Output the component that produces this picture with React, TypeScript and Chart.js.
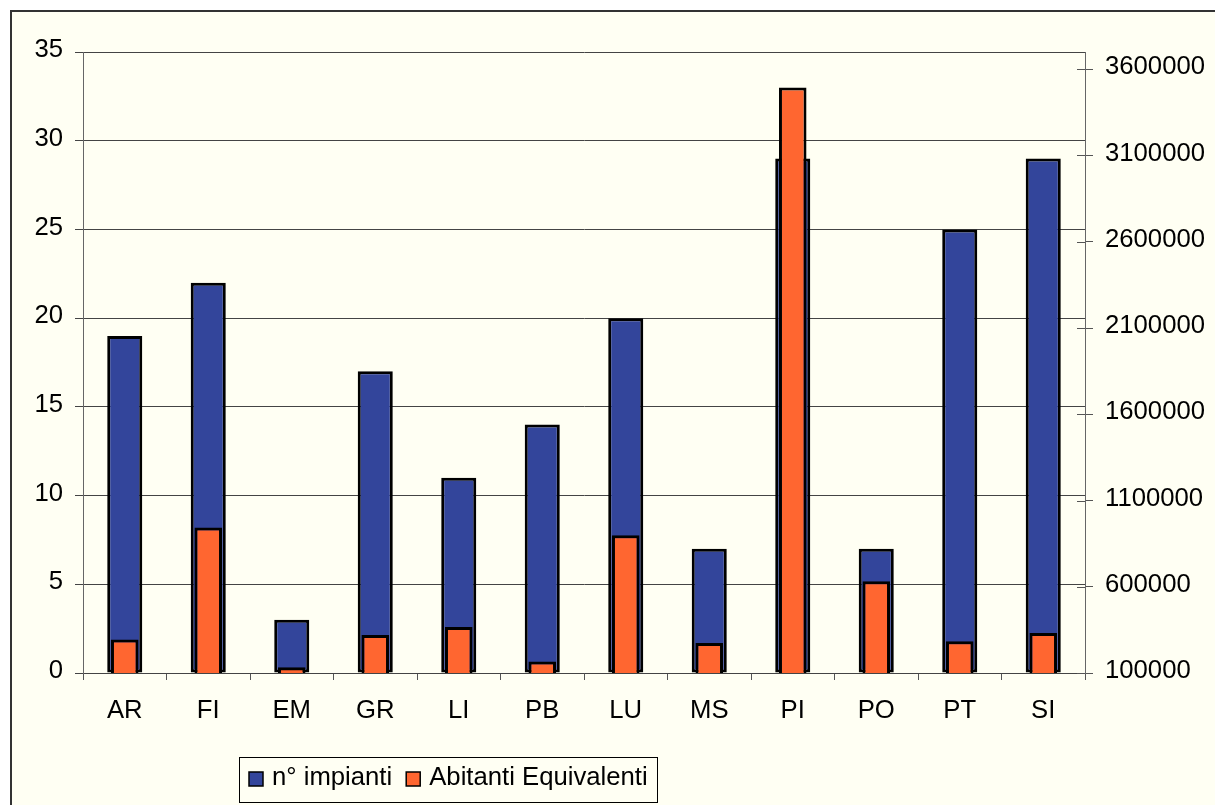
import React, { useEffect, useRef } from "react";
import { Chart, registerables } from "chart.js";

Chart.register(...registerables);

const categories = ["AR", "FI", "EM", "GR", "LI", "PB", "LU", "MS", "PI", "PO", "PT", "SI"];
const impianti = [19, 22, 3, 17, 11, 14, 20, 7, 29, 7, 25, 29];
const abitanti = [294000, 944000, 133000, 321000, 367000, 167000, 898000, 274000, 3494000, 632000, 284000, 332000];
const leftTicks = [0, 5, 10, 15, 20, 25, 30, 35];
const rightTicks = [100000, 600000, 1100000, 1600000, 2100000, 2600000, 3100000, 3600000];
const seriesLabels = ["n° impianti", "Abitanti Equivalenti"];

const BLUE = "#33459b";
const ORANGE = "#ff6630";
const CREAM = "#fffff3";
const FONT = "'Liberation Sans', Arial, sans-serif";
const FS = 25.7;

const framePlugin = {
  id: "frame",
  beforeDraw(chart: any) {
    const { ctx, width, height } = chart;
    ctx.save();
    ctx.fillStyle = "#ffffff";
    ctx.fillRect(0, 0, width, height);
    ctx.fillStyle = CREAM;
    ctx.fillRect(11, 10, width, height);
    ctx.fillStyle = "#333333";
    ctx.fillRect(10, 10, 2, height);
    ctx.fillRect(10, 10, width, 2);
    ctx.restore();
  },
};

const extrasPlugin = {
  id: "extras",
  afterDraw(chart: any) {
    const { ctx } = chart;
    const y1 = chart.scales.y1;
    ctx.save();
    ctx.strokeStyle = "#555555";
    ctx.lineWidth = 1;
    y1.ticks.forEach((t: any) => {
      const py = Math.round(y1.getPixelForValue(t.value)) + 0.5;
      ctx.beginPath();
      ctx.moveTo(y1.left - 8, py);
      ctx.lineTo(y1.left, py);
      ctx.stroke();
    });
    const bx = 239, by = 757, bw = 418, bh = 45;
    ctx.fillStyle = CREAM;
    ctx.fillRect(bx, by, bw, bh);
    ctx.strokeStyle = "#000000";
    ctx.lineWidth = 1;
    ctx.strokeRect(bx + 0.5, by + 0.5, bw, bh);
    ctx.font = `${FS}px ${FONT}`;
    ctx.textBaseline = "alphabetic";
    let x = 249;
    chart.data.datasets.forEach((ds: any) => {
      ctx.fillStyle = ds.backgroundColor;
      ctx.fillRect(x, 772, 14, 14);
      ctx.lineWidth = 1.5;
      ctx.strokeStyle = "#000";
      ctx.strokeRect(x, 772, 14, 14);
      ctx.fillStyle = "#000";
      ctx.fillText(ds.label, x + 23, 784.5);
      x = x + 23 + ctx.measureText(ds.label).width + 14;
    });
    ctx.restore();
  },
};

export default function App() {
  const ref = useRef<HTMLCanvasElement | null>(null);
  useEffect(() => {
    if (!ref.current) return;
    const chart = new Chart(ref.current, {
      type: "bar",
      data: {
        labels: categories,
        datasets: [
          {
            label: seriesLabels[0],
            data: impianti,
            backgroundColor: BLUE,
            borderColor: "#000",
            borderWidth: 3,
            borderSkipped: false,
            inflateAmount: 0,
            yAxisID: "y",
            grouped: false,
            categoryPercentage: 1,
            barPercentage: 0.42,
            order: 1,
          } as any,
          {
            label: seriesLabels[1],
            data: abitanti,
            backgroundColor: ORANGE,
            borderColor: "#000",
            borderWidth: 3,
            borderSkipped: false,
            inflateAmount: 0,
            yAxisID: "y1",
            grouped: false,
            categoryPercentage: 1,
            barPercentage: 0.33,
            order: 0,
          } as any,
        ],
      },
      options: {
        responsive: false,
        animation: false,
        layout: { padding: { top: 52, left: 0, right: 0, bottom: 0 } },
        plugins: { legend: { display: false }, tooltip: { enabled: false } },
        scales: {
          x: {
            grid: { display: true, drawOnChartArea: false, offset: true, tickLength: 7, color: "#555555", lineWidth: 1 },
            border: { display: true, color: "#444444" },
            ticks: { font: { size: FS, family: FONT }, color: "#000", padding: 15, maxRotation: 0, autoSkip: false },
            afterFit: (s: any) => { s.height = 132; },
          },
          y: {
            position: "left",
            min: 0,
            max: 35,
            afterBuildTicks: (s: any) => { s.ticks = leftTicks.map((v) => ({ value: v })); },
            grid: { color: "#444444", lineWidth: 1, tickLength: 8 },
            border: { display: true, color: "#666666" },
            ticks: { font: { size: FS, family: FONT }, color: "#000", padding: 12, labelOffset: -2 },
            afterFit: (s: any) => { s.width = 83; },
          },
          y1: {
            position: "right",
            min: 100000,
            max: 3700000,
            afterBuildTicks: (s: any) => { s.ticks = rightTicks.map((v) => ({ value: v })); },
            grid: { drawOnChartArea: false, color: "#555555", lineWidth: 1, tickLength: 8 },
            border: { display: true, color: "#666666" },
            ticks: { font: { size: FS, family: FONT }, color: "#000", padding: 12, labelOffset: -2, callback: (v: any) => String(v) },
            afterFit: (s: any) => { s.width = 130; },
          },
        },
      },
      plugins: [framePlugin, extrasPlugin],
    });
    return () => chart.destroy();
  }, []);
  return (
    <div style={{ position: "fixed", left: 0, top: 0, width: 1215, height: 805 }}>
      <canvas ref={ref} width={1215} height={805} style={{ display: "block" }} />
    </div>
  );
}
